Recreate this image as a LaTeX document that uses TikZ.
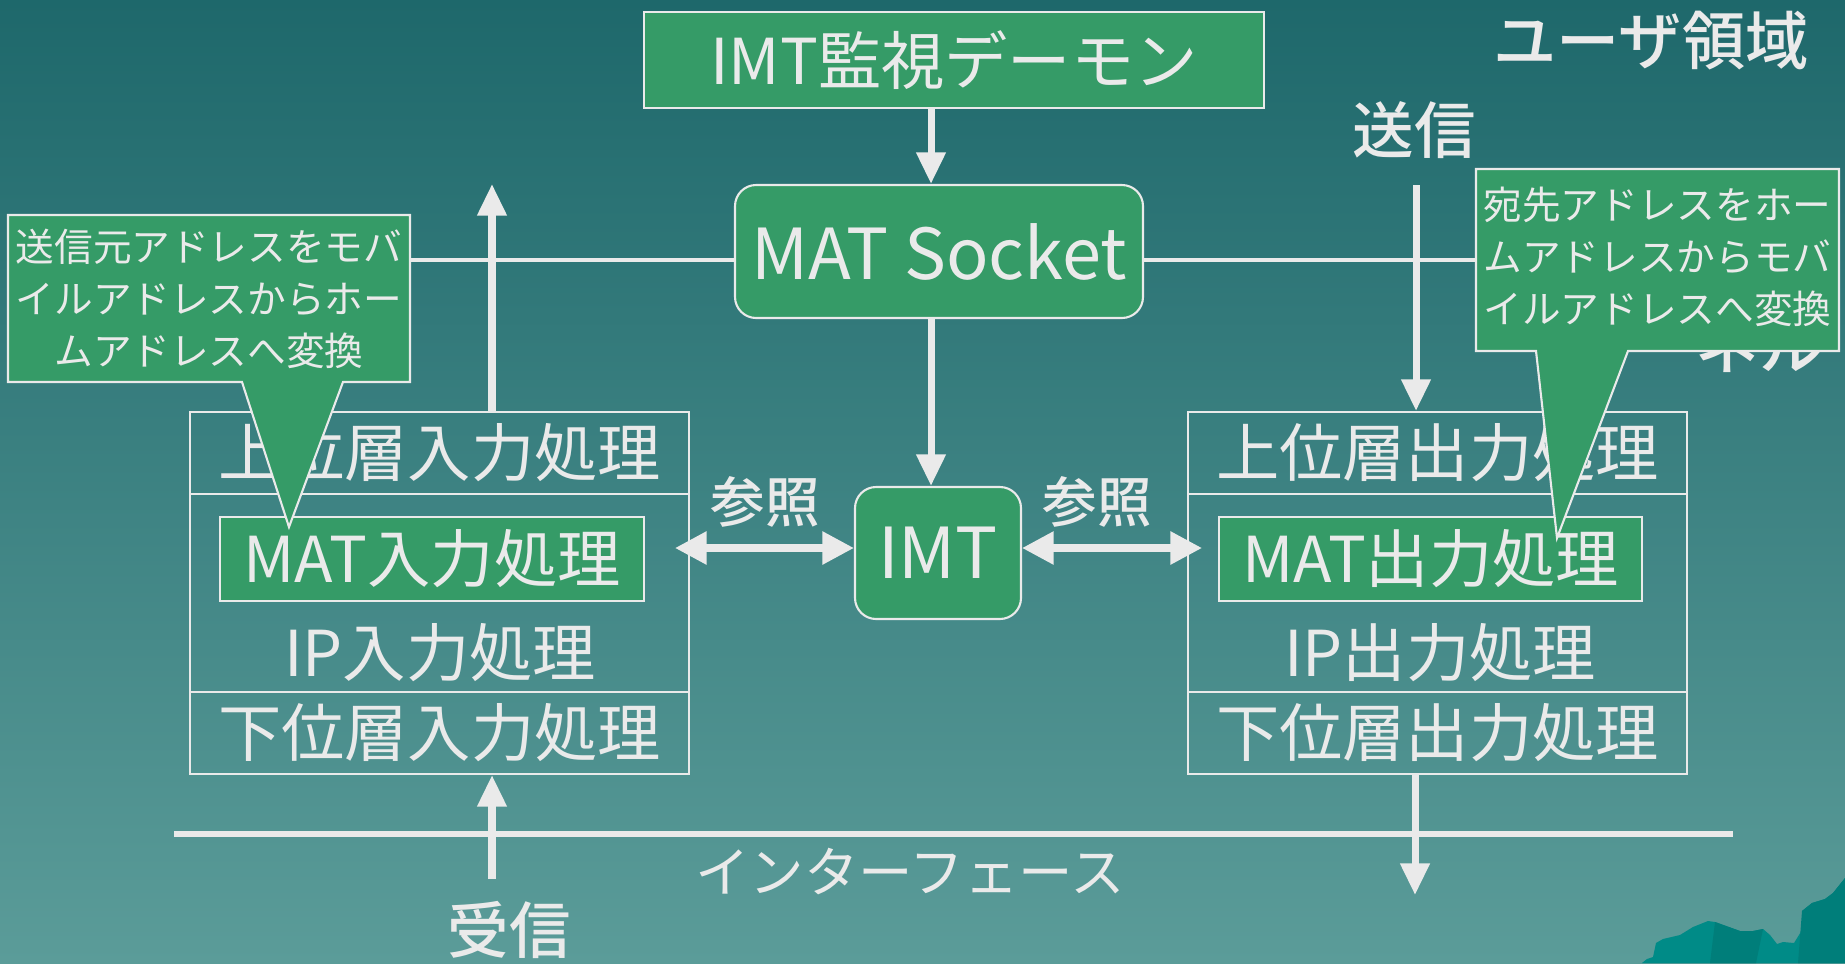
\documentclass[tikz,border=0pt]{standalone}
\usepackage{fontspec}
\setmainfont{Noto Sans CJK JP}
\newfontfamily\medfont{Noto Sans CJK JP Medium}
\usepackage{tikz}
\usetikzlibrary{arrows.meta, positioning}
\definecolor{boxgreen}{RGB}{53,155,103}
\definecolor{paleline}{RGB}{234,234,234}
\definecolor{bgtop}{RGB}{30,104,107}
\definecolor{bgbottom}{RGB}{91,156,153}
\definecolor{reefteal}{RGB}{0,139,135}
\definecolor{reefdark}{RGB}{0,126,122}

\begin{document}
\begin{tikzpicture}[
  procbox/.style={draw=paleline, fill=boxgreen, line width=0.6pt, text=paleline, inner sep=0pt},
  roundbox/.style={procbox, rounded corners=6pt},
  layerbox/.style={draw=paleline, line width=0.6pt, text=paleline, inner sep=0pt, minimum width=4.99cm},
  flow/.style={-{Triangle[length=9pt, width=8pt]}, draw=paleline, line width=2pt},
  twoway/.style={{Triangle[length=9pt, width=9pt]}-{Triangle[length=9pt, width=9pt]}, draw=paleline, line width=2pt},
  rowtext/.style={text=paleline, inner sep=0pt, font=\fontsize{18}{20}\selectfont},
  tag/.style={text=paleline, inner sep=0pt, font=\fontsize{17.5}{20}\selectfont\medfont},
  notetext/.style={text=paleline, inner sep=0pt, align=center, font=\fontsize{11}{14.8}\selectfont},
  notebody/.style={fill=boxgreen, draw=paleline, line width=0.6pt},
]
  % Background
  \shade[top color=bgtop, bottom color=bgbottom] (0,0) rectangle (18.45,9.63);
  \useasboundingbox (0,0) rectangle (18.45,9.63);

  % Corner reef
  \fill[reefteal] (16.42,0) -- (16.47,0.04) -- (16.53,0.06) -- (16.56,0.20) -- (16.63,0.24)
    -- (16.80,0.28) -- (16.93,0.36) -- (17.08,0.42) -- (17.15,0.41) -- (17.40,0.32)
    -- (17.53,0.32) -- (17.63,0.34) -- (17.70,0.28) -- (17.77,0.19) -- (17.83,0.21)
    -- (17.94,0.20) -- (18.02,0.33) -- (18.02,0.52) -- (18.12,0.60) -- (18.25,0.64)
    -- (18.33,0.70) -- (18.45,0.85) -- (18.45,0) -- cycle;
  \fill[reefdark] (17.15,0.41) -- (17.40,0.32) -- (17.53,0.32) -- (17.63,0.34) -- (17.56,0) -- (17.10,0) -- cycle;
  \fill[reefdark] (18.02,0.52) -- (18.12,0.60) -- (18.25,0.64) -- (18.33,0.70) -- (18.45,0.85) -- (18.45,0) -- (17.98,0) -- cycle;

  % Region labels
  \node[tag, font=\fontsize{18}{20}\selectfont\medfont] (userarea) at (16.51,9.22) {ユーザ領域};
  \node[tag, font=\fontsize{18}{20}\selectfont\medfont, anchor=east] (kernelarea) at (18.23,6.18) {カーネル};

  % User / kernel boundary and interface line
  \draw[paleline, line width=1.3pt] (3.5,7.03) -- (17.5,7.03);
  \draw[paleline, line width=1.5pt] (1.74,1.29) -- (17.33,1.29);
  \node[rowtext, font=\fontsize{15.5}{18}\selectfont] (iface) at (9.10,0.91) {インターフェース};

  % Daemon, socket and IMT
  \node[procbox, minimum width=6.20cm, minimum height=0.96cm, font=\fontsize{18}{20}\selectfont] (daemon) at (9.54,9.03) {IMT監視デーモン};
  \node[roundbox, minimum width=4.08cm, minimum height=1.33cm, font=\fontsize{20}{22}\selectfont] (socket) at (9.39,7.115) {MAT Socket};
  \node[roundbox, minimum width=1.66cm, minimum height=1.32cm, font=\fontsize{20}{22}\selectfont] (imt) at (9.38,4.10) {IMT};

  % Input stack
  \node[layerbox, minimum height=0.82cm, font=\fontsize{18}{20}\selectfont] (inup) at (4.395,5.10) {上位層入力処理};
  \node[layerbox, minimum height=1.98cm] (inmid) at (4.395,3.70) {};
  \node[layerbox, minimum height=0.82cm, font=\fontsize{18}{20}\selectfont] (inlow) at (4.395,2.30) {下位層入力処理};
  \node[procbox, minimum width=4.24cm, minimum height=0.84cm, font=\fontsize{18}{20}\selectfont] (matin) at (4.32,4.04) {MAT入力処理};
  \node[rowtext] (ipin) at (4.40,3.10) {IP入力処理};

  % Output stack
  \node[layerbox, minimum height=0.82cm, font=\fontsize{18}{20}\selectfont] (outup) at (14.375,5.10) {上位層出力処理};
  \node[layerbox, minimum height=1.98cm] (outmid) at (14.375,3.70) {};
  \node[layerbox, minimum height=0.82cm, font=\fontsize{18}{20}\selectfont] (outlow) at (14.375,2.30) {下位層出力処理};
  \node[procbox, minimum width=4.23cm, minimum height=0.84cm, font=\fontsize{18}{20}\selectfont] (matout) at (14.305,4.04) {MAT出力処理};
  \node[rowtext] (ipout) at (14.40,3.10) {IP出力処理};

  % Control arrows
  \coordinate (spine) at (9.31,0);
  \draw[flow] (daemon.south -| spine) -- (socket.north -| spine);
  \draw[flow] (socket.south -| spine) -- (imt.north -| spine);

  % Lookups
  \coordinate (refin) at (6.75,4.15);
  \coordinate (refout) at (12.02,4.15);
  \draw[twoway] (refin) -- (refin -| imt.west);
  \draw[twoway] (imt.east |- refout) -- (refout);
  \node[tag, font=\fontsize{15.5}{18}\selectfont\medfont] (refinlbl) at (7.65,4.61) {参照};
  \node[tag, font=\fontsize{15.5}{18}\selectfont\medfont] (refoutlbl) at (10.97,4.61) {参照};

  % Packet paths
  \coordinate (toapp) at (4.92,7.79);
  \coordinate (fromapp) at (14.16,7.78);
  \coordinate (fromnic) at (4.92,0.84);
  \coordinate (tonic) at (14.15,0.68);
  \draw[flow] (inup.north -| toapp) -- (toapp);
  \draw[flow] (fromapp) -- (fromapp |- outup.north);
  \draw[flow] (fromnic) -- (fromnic |- inlow.south);
  \draw[flow] (tonic |- outlow.south) -- (tonic);
  \node[tag] (sendlbl) at (14.14,8.33) {送信};
  \node[tag] (recvlbl) at (5.09,0.33) {受信};

  % Notes
  \draw[notebody] (0.08,7.48) -- (4.10,7.48) -- (4.10,5.81) -- (3.43,5.81) -- (2.89,4.36)
    -- (2.42,5.81) -- (0.08,5.81) -- cycle;
  \node[notetext] (srcnote) at (2.09,6.645) {送信元アドレスをモバ\\イルアドレスからホー\\ムアドレスへ変換};
  \draw[notebody] (14.76,7.94) -- (18.39,7.94) -- (18.39,6.12) -- (16.28,6.12) -- (15.57,4.25)
    -- (15.36,6.12) -- (14.76,6.12) -- cycle;
  \node[notetext] (dstnote) at (16.575,7.06) {宛先アドレスをホー\\ムアドレスからモバ\\イルアドレスへ変換};

\end{tikzpicture}
\end{document}
